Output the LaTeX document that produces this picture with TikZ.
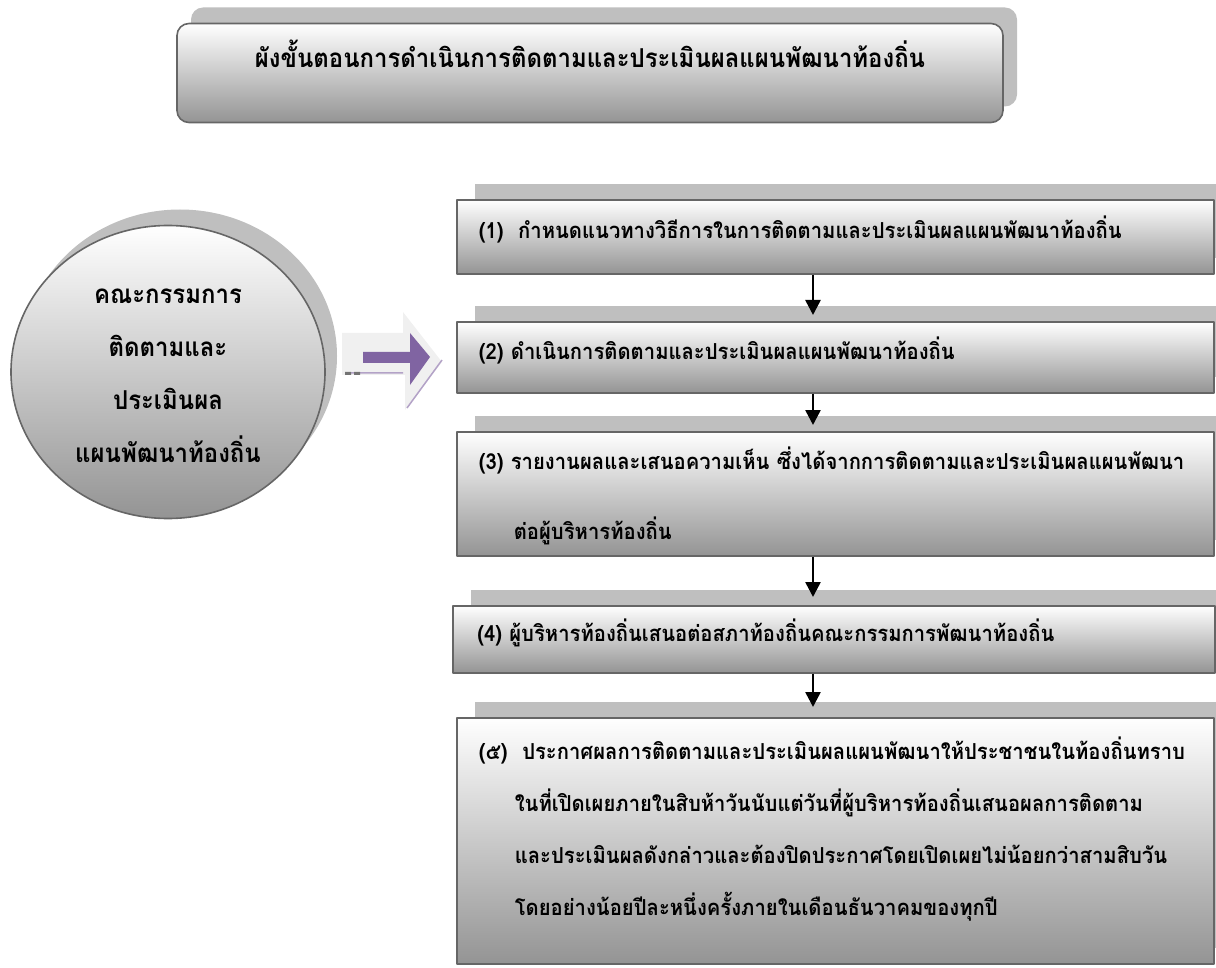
\documentclass[tikz,border=0pt]{standalone}
\usepackage{fontspec}
\newfontfamily\thaifont[Script=Thai,FakeStretch=0.92]{Loma}
\usetikzlibrary{arrows.meta,shapes.geometric,shadows}
\definecolor{shadegray}{HTML}{BFBFBF}
\definecolor{edgegray}{HTML}{666666}
\definecolor{flowpurple}{HTML}{8064A2}
\definecolor{bevelgray}{HTML}{F0F0F0}
\definecolor{bevelline}{HTML}{B3A2C7}
\begin{document}
\begin{tikzpicture}[x=1pt,y=-1pt,>={Triangle[width=15pt,length=15pt]},line join=round,
  font=\thaifont\bfseries\fontsize{22}{26}\selectfont,
  shadefill/.style={draw=edgegray,line width=1.6pt,top color=white,bottom color=black!42},
  stepbox/.style={shadefill,
    drop shadow={shadow xshift=18pt,shadow yshift=16pt,fill=shadegray,opacity=1},
    anchor=north west,align=left,inner xsep=22pt,inner ysep=0pt,minimum width=757pt,text width=713pt,
    text height=20pt,text depth=16pt},
  link/.style={->,line width=2.6pt}]
  \def\bx{456} \def\ax{813} % ตำแหน่งกล่องและลูกศร
  \useasboundingbox (0,0) rectangle (1216,968);
  % หัวเรื่อง
  \node[shadefill,rounded corners=12pt,
    drop shadow={shadow xshift=14pt,shadow yshift=16pt,fill=shadegray,opacity=1},
    minimum width=826pt,minimum height=99pt,text height=18pt,text depth=28pt,
    font=\thaifont\bfseries\fontsize{26}{30}\selectfont] (title) at (590,73)
    {ผังขั้นตอนการดำเนินการติดตามและประเมินผลแผนพัฒนาท้องถิ่น};
  % คณะกรรมการ
  \node[ellipse,shadefill,
    drop shadow={shadow xshift=12pt,shadow yshift=16pt,fill=shadegray,opacity=1},
    minimum width=314pt,minimum height=293pt,inner sep=0pt,align=center,text width=200pt,
    text height=22pt,text depth=158pt,
    font=\thaifont\bfseries\fontsize{26}{53}\selectfont] (board) at (168,372)
    {คณะกรรมการ\\ติดตามและ\\ประเมินผล\\แผนพัฒนาท้องถิ่น};
  % ลูกศรใหญ่
  \fill[bevelgray] (342,333) -- (403,333) -- (403,312) -- (442,362) -- (405,410) -- (405,375) -- (342,375) -- cycle;
  \draw[bevelline,line width=1.5pt] (345,373) -- (403,373) (407,408) -- (442,360);
  \fill[black!55] (345,372) rectangle (351,375) (354,372) rectangle (360,375);
  \fill[flowpurple] (363,352) -- (410,352) -- (410,333) -- (430,357) -- (410,385) -- (410,363) -- (363,363) -- cycle;
  % ขั้นตอน
  \node[stepbox,minimum height=74pt] (s1) at (\bx,199)
    {(1)~ กำหนดแนวทางวิธีการในการติดตามและประเมินผลแผนพัฒนาท้องถิ่น};
  \node[stepbox,minimum height=71pt] (s2) at (\bx,321)
    {(2) ดำเนินการติดตามและประเมินผลแผนพัฒนาท้องถิ่น};
  \node[stepbox,minimum height=124pt,text depth=68pt] (s3) at (\bx,431)
    {(3) รายงานผลและเสนอความเห็น~ซึ่งได้จากการติดตามและประเมินผลแผนพัฒนา\\[41pt]
     \hspace*{35pt}ต่อผู้บริหารท้องถิ่น};
  \node[stepbox,minimum height=67pt,minimum width=762pt] (s4) at (452,605)
    {(4) ผู้บริหารท้องถิ่นเสนอต่อสภาท้องถิ่นคณะกรรมการพัฒนาท้องถิ่น};
  \node[stepbox,minimum height=246pt,text depth=182pt,
    font=\thaifont\bfseries\fontsize{22}{52}\selectfont] (s5) at (\bx,717)
    {(๕)~~ประกาศผลการติดตามและประเมินผลแผนพัฒนาให้ประชาชนในท้องถิ่นทราบ\\
     \hspace*{36pt}ในที่เปิดเผยภายในสิบห้าวันนับแต่วันที่ผู้บริหารท้องถิ่นเสนอผลการติดตาม\\
     \hspace*{36pt}และประเมินผลดังกล่าวและต้องปิดประกาศโดยเปิดเผยไม่น้อยกว่าสามสิบวัน\\
     \hspace*{36pt}โดยอย่างน้อยปีละหนึ่งครั้งภายในเดือนธันวาคมของทุกปี};
  \coordinate (ax) at (\ax,0);
  \draw[link,shorten >=6pt] (s1.south -| ax) -- (s2.north -| ax);
  \draw[link,shorten >=6pt] (s2.south -| ax) -- (s3.north -| ax);
  \draw[link,shorten >=8pt] (s3.south -| ax) -- (s4.north -| ax);
  \draw[link,shorten >=10pt] (s4.south -| ax) -- (s5.north -| ax);
\end{tikzpicture}
\end{document}
